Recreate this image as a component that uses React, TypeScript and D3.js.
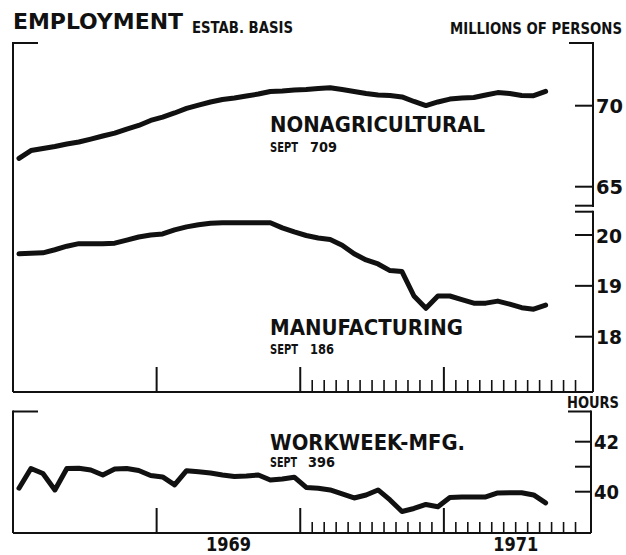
import React from 'react'
import * as d3 from 'd3'

// monthly, Jan 1968 .. Sept 1971 (index 0 = Jan 1968)
const nonagricultural = [
  66.75, 67.23, 67.36, 67.48, 67.64, 67.76, 67.94, 68.13, 68.31, 68.56, 68.78, 69.09,
  69.3, 69.55, 69.83, 70.04, 70.23, 70.38, 70.48, 70.6, 70.72, 70.88, 70.91, 70.97,
  71.0, 71.06, 71.11, 71.0, 70.88, 70.75, 70.66, 70.63, 70.54, 70.26, 70.01, 70.23,
  70.41, 70.48, 70.51, 70.66, 70.81, 70.75, 70.63, 70.62, 70.88,
]
const manufacturing = [
  19.63, 19.64, 19.65, 19.71, 19.78, 19.83, 19.83, 19.83, 19.84, 19.9, 19.96, 20.0,
  20.02, 20.1, 20.16, 20.2, 20.23, 20.24, 20.24, 20.24, 20.24, 20.24, 20.14, 20.06,
  19.99, 19.94, 19.91, 19.8, 19.63, 19.51, 19.43, 19.3, 19.28, 18.8, 18.56, 18.8,
  18.8, 18.73, 18.66, 18.66, 18.7, 18.64, 18.57, 18.54, 18.62,
]
const workweek = [
  40.14, 40.93, 40.73, 40.07, 40.93, 40.94, 40.87, 40.67, 40.91, 40.93, 40.85, 40.65,
  40.59, 40.27, 40.84, 40.8, 40.75, 40.67, 40.61, 40.63, 40.67, 40.47, 40.51, 40.58,
  40.17, 40.14, 40.07, 39.91, 39.75, 39.87, 40.07, 39.67, 39.21, 39.33, 39.49, 39.4,
  39.77, 39.79, 39.79, 39.79, 39.95, 39.96, 39.96, 39.87, 39.55,
]

const nonagTicks = [65, 70]
const manufTicks = [18, 19, 20]
const hoursTicks = [40, 41, 42]
const hoursLabels = [40, 42]
const yearTicks = [12, 24, 36] // month index of Jan 1969, 1970, 1971
const minorMonths = d3.range(25, 48) // monthly ticks through 1970-71
const yearLabels = [
  { label: '1969', start: 12 },
  { label: '1971', start: 36 },
]

const font = '"DejaVu Sans Condensed", "DejaVu Sans", sans-serif'
const ink = '#111'

export default function App() {
  const x = d3.scaleLinear().domain([0, 48]).range([13, 587.5])
  const yNon = d3.scaleLinear().domain([65, 70]).range([186.7, 105.7])
  const yMan = d3.scaleLinear().domain([18, 20]).range([336.7, 235])
  const yHrs = d3.scaleLinear().domain([40, 42]).range([491.7, 441.7])

  const mkLine = (y: d3.ScaleLinear<number, number>) =>
    d3.line<number>().x((_, i) => x(i + 0.5)).y(d => y(d))

  const left = 13
  const rightTop = 593
  const rightBot = 591
  const topBottom = 392
  const botTop = 411.5
  const botBottom = 533

  const txt = (s: string, px: number, py: number, size: number, len?: number, anchor = 'start') => (
    <text x={px} y={py} fontSize={size} fontWeight="bold" fontFamily={font} fill={ink}
      textAnchor={anchor} textLength={len} lengthAdjust="spacingAndGlyphs">{s}</text>
  )

  return (
    <svg width={626} height={555} style={{ position: 'absolute', left: 0, top: 0, background: '#fff' }}>
      <g stroke={ink} strokeWidth={2} fill="none">
        {/* upper panel frame */}
        <line x1={left} y1={43} x2={38} y2={43} />
        <line x1={left} y1={42} x2={left} y2={topBottom} />
        <line x1={left} y1={topBottom} x2={rightTop} y2={topBottom} />
        <line x1={569} y1={43} x2={rightTop} y2={43} />
        <line x1={rightTop} y1={42} x2={rightTop} y2={207} />
        <line x1={575} y1={205.7} x2={rightTop} y2={205.7} />
        <line x1={575} y1={211.7} x2={rightTop} y2={211.7} />
        <line x1={rightTop} y1={210.7} x2={rightTop} y2={topBottom} />
        {nonagTicks.map(t => <line key={'n' + t} x1={575} x2={rightTop} y1={yNon(t)} y2={yNon(t)} />)}
        {manufTicks.map(t => <line key={'m' + t} x1={575} x2={rightTop} y1={yMan(t)} y2={yMan(t)} />)}

        {/* lower panel frame */}
        <line x1={left} y1={botTop} x2={38} y2={botTop} />
        <line x1={left} y1={botTop - 1} x2={left} y2={botBottom} />
        <line x1={left} y1={botBottom} x2={rightBot} y2={botBottom} />
        <line x1={568} y1={botTop} x2={rightBot} y2={botTop} />
        <line x1={rightBot} y1={botTop - 1} x2={rightBot} y2={botBottom} />
        {hoursTicks.map(t => <line key={'h' + t} x1={575} x2={rightBot} y1={yHrs(t)} y2={yHrs(t)} />)}

        {/* time ticks */}
        {yearTicks.map(m => (
          <g key={'y' + m}>
            <line x1={x(m)} x2={x(m)} y1={topBottom} y2={topBottom - 25} />
            <line x1={x(m)} x2={x(m)} y1={botBottom} y2={botBottom - 25} />
          </g>
        ))}
        {minorMonths.filter(m => m % 12 !== 0).map(m => (
          <g key={'mm' + m} strokeWidth={1.6}>
            <line x1={x(m)} x2={x(m)} y1={topBottom} y2={topBottom - 12} />
            <line x1={x(m)} x2={x(m)} y1={botBottom} y2={botBottom - 11} />
          </g>
        ))}
      </g>

      <g fill="none" stroke={ink} strokeWidth={5} strokeLinejoin="round" strokeLinecap="round">
        <path d={mkLine(yNon)(nonagricultural) || ''} />
        <path d={mkLine(yMan)(manufacturing) || ''} />
        <path d={mkLine(yHrs)(workweek) || ''} />
      </g>

      {/* headings */}
      {txt('EMPLOYMENT', 13, 29, 22, 170)}
      {txt('ESTAB. BASIS', 192, 33, 15, 101)}
      {txt('MILLIONS OF PERSONS', 450, 34, 15, 172)}
      {txt('HOURS', 567, 408, 15, 52)}

      {/* series labels */}
      {txt('NONAGRICULTURAL', 270, 132, 21, 215)}
      {txt('SEPT', 270, 152, 13.5, 28)}
      {txt('709', 310, 152, 13.5, 27)}
      {txt('MANUFACTURING', 270, 335, 21, 193)}
      {txt('SEPT', 270, 354, 13.5, 28)}
      {txt('186', 310, 354, 13.5, 24)}
      {txt('WORKWEEK-MFG.', 270, 450, 21, 195)}
      {txt('SEPT', 270, 467, 13.5, 27)}
      {txt('396', 308, 467, 13.5, 27)}

      {/* value labels */}
      {nonagTicks.map(t => <g key={'nl' + t}>{txt(String(t), 596, yNon(t) + 7.5, 20, 27)}</g>)}
      {manufTicks.map(t => <g key={'ml' + t}>{txt(String(t), 596, yMan(t) + 7.5, 20, 26)}</g>)}
      {hoursLabels.map(t => <g key={'hl' + t}>{txt(String(t), 594, yHrs(t) + 7.5, 20, 25)}</g>)}

      {yearLabels.map(d => (
        <g key={d.label}>{txt(d.label, (x(d.start) + x(d.start + 12)) / 2, 551, 19, 45, 'middle')}</g>
      ))}
    </svg>
  )
}
